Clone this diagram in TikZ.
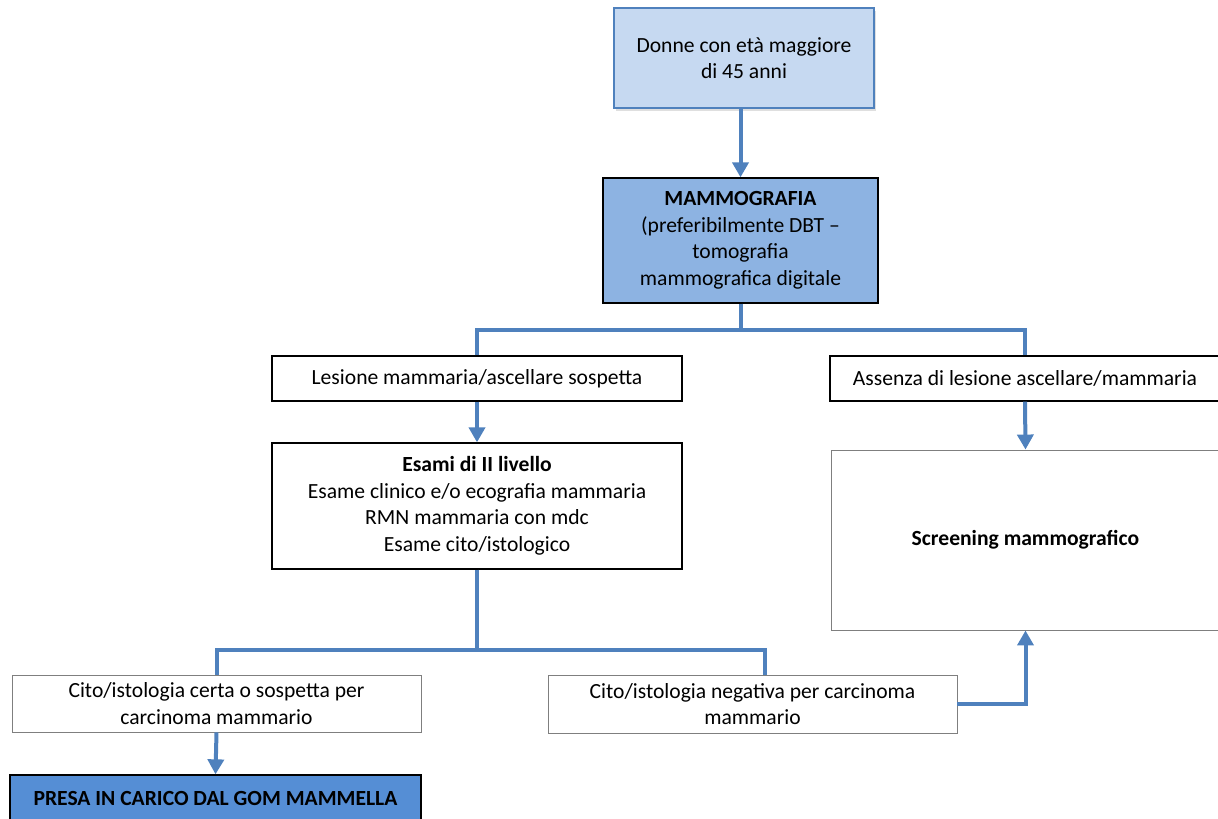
\documentclass[tikz,border=0pt]{standalone}
\usepackage{fontspec}
\setmainfont{Carlito}
\usetikzlibrary{arrows.meta,shadows}
\definecolor{lineblue}{HTML}{4F81BD}
\definecolor{topfill}{HTML}{C6D9F1}
\definecolor{mamfill}{HTML}{8DB3E2}
\definecolor{presafill}{HTML}{558ED5}
\definecolor{boxgray}{HTML}{7F7F7F}

\begin{document}
\begin{tikzpicture}[x=1pt,y=-1pt,
  box/.style={draw=black, line width=1.3pt, fill=white, align=center, inner sep=0pt,
              font=\fontsize{21.6}{26.5}\selectfont},
  graybox/.style={box, draw=boxgray, line width=0.9pt},
  conn/.style={draw=lineblue, line width=4pt},
  arr/.style={conn, -{Triangle[width=16pt,length=15pt]}},
]
\useasboundingbox (0,0) rectangle (1218,819);

% boxes
\node[box, draw=lineblue, line width=1.6pt, fill=topfill, minimum width=260, minimum height=100,
      drop shadow={shadow xshift=2pt, shadow yshift=-3pt, opacity=0.25}]
  (top) at (744,58) {Donne con età maggiore\\di 45 anni};
\node[box, fill=mamfill, minimum width=275, minimum height=125]
  (mam) at (740.5,240.5) {\textbf{MAMMOGRAFIA}\\(preferibilmente DBT –\\tomografia\\mammografica digitale};
\node[box, minimum width=410, minimum height=45]
  (les) at (477,378.5) {Lesione mammaria/ascellare sospetta};
\node[box, minimum width=410, minimum height=126]
  (esa) at (477,506) {\textbf{Esami di II livello}\\Esame clinico e/o ecografia mammaria\\RMN mammaria con mdc\\Esame cito/istologico};
\node[box, minimum width=390, minimum height=45]
  (abs) at (1025,378.5) {Assenza di lesione ascellare/mammaria};
\node[graybox, minimum width=389, minimum height=180]
  (scr) at (1025.5,540) {\textbf{Screening mammografico}};
\node[graybox, minimum width=409, minimum height=57]
  (certa) at (216.5,703.5) {Cito/istologia certa o sospetta per\\carcinoma mammario};
\node[graybox, minimum width=409, minimum height=58]
  (neg) at (752.5,704) {Cito/istologia negativa per carcinoma\\mammario};
\node[box, fill=presafill, minimum width=411, minimum height=46]
  (presa) at (215.5,798) {\textbf{PRESA IN CARICO DAL GOM MAMMELLA}};

% junction points
\coordinate (j1) at (740.5,330);
\coordinate (j2) at (477,650);

% connectors
\draw[arr] (mam.north |- top.south) -- (mam.north);
\draw[conn] (mam.south) -- (j1);
\draw[conn] (les.north) |- (j1) -| (abs.north);
\draw[arr] (les.south) -- (esa.north);
\draw[arr] (abs.south) -- (scr.north);
\draw[conn] (esa.south) -- (j2);
\draw[conn] (certa.north) |- (j2) -| ([xshift=12pt]neg.north);
\draw[arr] (certa.south) -- (presa.north);
\draw[arr] (neg.east) -| (scr.south);
\end{tikzpicture}
\end{document}
